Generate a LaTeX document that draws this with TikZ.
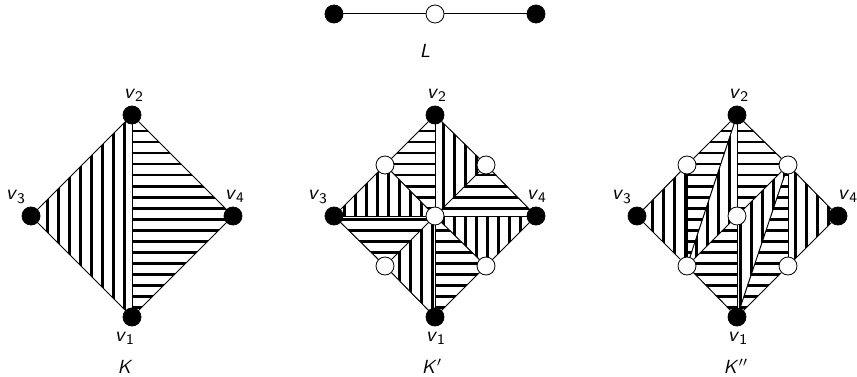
\documentclass[tikz,border=0pt]{standalone}
\usepackage{tikz}

\pgfdeclarelayer{hatching}
\pgfsetlayers{hatching,main}

% triangle between three named nodes, ruled across or upright
\newcommand{\triacross}[3]{%
  \begin{pgfonlayer}{hatching}
    \begin{scope}
      \clip (#1.center) -- (#2.center) -- (#3.center) -- cycle;
      \foreach \y in {109.2,120.2,...,329} \draw[rule] (0,\y) -- (857,\y);
    \end{scope}
  \end{pgfonlayer}}
\newcommand{\triupright}[3]{%
  \begin{pgfonlayer}{hatching}
    \begin{scope}
      \clip (#1.center) -- (#2.center) -- (#3.center) -- cycle;
      \foreach \x in {3.2,14.2,...,850} \draw[rule] (\x,100) -- (\x,330);
    \end{scope}
  \end{pgfonlayer}}
\newcommand{\vname}[1]{\textit{v}\textsubscript{#1}}

\begin{document}
\begin{tikzpicture}[
      x=1pt, y=-1pt,
      solidpt/.style={circle, draw, fill=black, minimum size=18pt, inner sep=0pt, line width=0.8pt},
      hollowpt/.style={circle, draw, fill=white, minimum size=18pt, inner sep=0pt, line width=0.8pt},
      edge/.style={line width=1pt},
      rule/.style={line width=2.6pt},
      lab/.style={font=\sffamily, scale=2.1, transform shape, inner sep=0pt},
      setname/.style={font=\sffamily, scale=1.9, transform shape, inner sep=0pt}
    ]
    \useasboundingbox (0,0) rectangle (857,377);

    % L
    \node[solidpt] (l1) at (334,14) {};
    \node[hollowpt] (l2) at (435,14) {};
    \node[solidpt] (l3) at (536,14) {};
    \node[setname] (lname) at (425,51) {\textit{L}};
    \draw[edge] (l1) -- (l2);
    \draw[edge] (l2) -- (l3);

    % K
    \node[solidpt] (k1) at (132,317) {};
    \node[solidpt] (k2) at (132,115) {};
    \node[solidpt] (k3) at (31,216) {};
    \node[solidpt] (k4) at (233,216) {};
    \node[lab] (k1name) at (125,338) {\vname{1}};
    \node[lab] (k2name) at (134,95) {\vname{2}};
    \node[lab] (k3name) at (16,197) {\vname{3}};
    \node[lab] (k4name) at (235,196) {\vname{4}};
    \node[setname] (kname) at (125,367) {\textit{K}};

    \triupright{k1}{k2}{k3}
    \triacross{k1}{k2}{k4}
    \foreach \a/\b in {k1/k2, k1/k3, k3/k2, k2/k4, k4/k1}
      \draw[edge] (\a) -- (\b);

    % K'
    \node[solidpt] (p1) at (435,317) {};
    \node[solidpt] (p2) at (435,115) {};
    \node[solidpt] (p3) at (334,216) {};
    \node[solidpt] (p4) at (536,216) {};
    \node[hollowpt] (pc) at (435,216) {};
    \node[hollowpt] (ptl) at (385,165) {};
    \node[hollowpt] (ptr) at (486,165) {};
    \node[hollowpt] (pbl) at (385,266) {};
    \node[hollowpt] (pbr) at (486,266) {};
    \node[lab] (p1name) at (436,338) {\vname{1}};
    \node[lab] (p2name) at (437,95) {\vname{2}};
    \node[lab] (p3name) at (318,197) {\vname{3}};
    \node[lab] (p4name) at (537,196) {\vname{4}};
    \node[setname] (pname) at (432,366) {\textit{K}$'$};

    \triacross{p2}{ptl}{pc}
    \triupright{p3}{ptl}{pc}
    \triupright{p2}{ptr}{pc}
    \triacross{p4}{ptr}{pc}
    \triupright{p4}{pbr}{pc}
    \triacross{p1}{pbr}{pc}
    \triupright{p1}{pbl}{pc}
    \triacross{p3}{pbl}{pc}
    \foreach \a/\b in {p1/pbl, pbl/p3, p3/ptl, ptl/p2, p2/ptr, ptr/p4, p4/pbr, pbr/p1,
                       pc/p1, pc/p2, pc/p3, pc/p4, pc/ptl, pc/ptr, pc/pbl, pc/pbr}
      \draw[edge] (\a) -- (\b);

    % K''
    \node[solidpt] (q1) at (737,317) {};
    \node[solidpt] (q2) at (737,115) {};
    \node[solidpt] (q3) at (637,216) {};
    \node[solidpt] (q4) at (838,216) {};
    \node[hollowpt] (qc) at (737,216) {};
    \node[hollowpt] (qtl) at (687,165) {};
    \node[hollowpt] (qtr) at (788,165) {};
    \node[hollowpt] (qbl) at (687,266) {};
    \node[hollowpt] (qbr) at (788,266) {};
    \node[lab] (q1name) at (738,338) {\vname{1}};
    \node[lab] (q2name) at (739,95) {\vname{2}};
    \node[lab] (q3name) at (622,197) {\vname{3}};
    \node[lab] (q4name) at (848,196) {\vname{4}};
    \node[setname] (qname) at (736,366) {\textit{K}$''$};

    \triupright{q3}{qtl}{qbl}
    \triacross{q2}{qtl}{qbl}
    \triupright{q2}{qbl}{qc}
    \triacross{q2}{qc}{qtr}
    \triacross{q1}{qbl}{qc}
    \triupright{q1}{qc}{qtr}
    \triacross{q1}{qtr}{qbr}
    \triupright{q4}{qtr}{qbr}
    \foreach \a/\b in {q1/qbl, qbl/q3, q3/qtl, qtl/q2, q2/qtr, qtr/q4, q4/qbr, qbr/q1,
                       qtl/qbl, q2/qbl, qbl/qc, qc/qtr, q2/qc, qc/q1, q1/qtr, qtr/qbr}
      \draw[edge] (\a) -- (\b);

  \end{tikzpicture}
\end{document}
